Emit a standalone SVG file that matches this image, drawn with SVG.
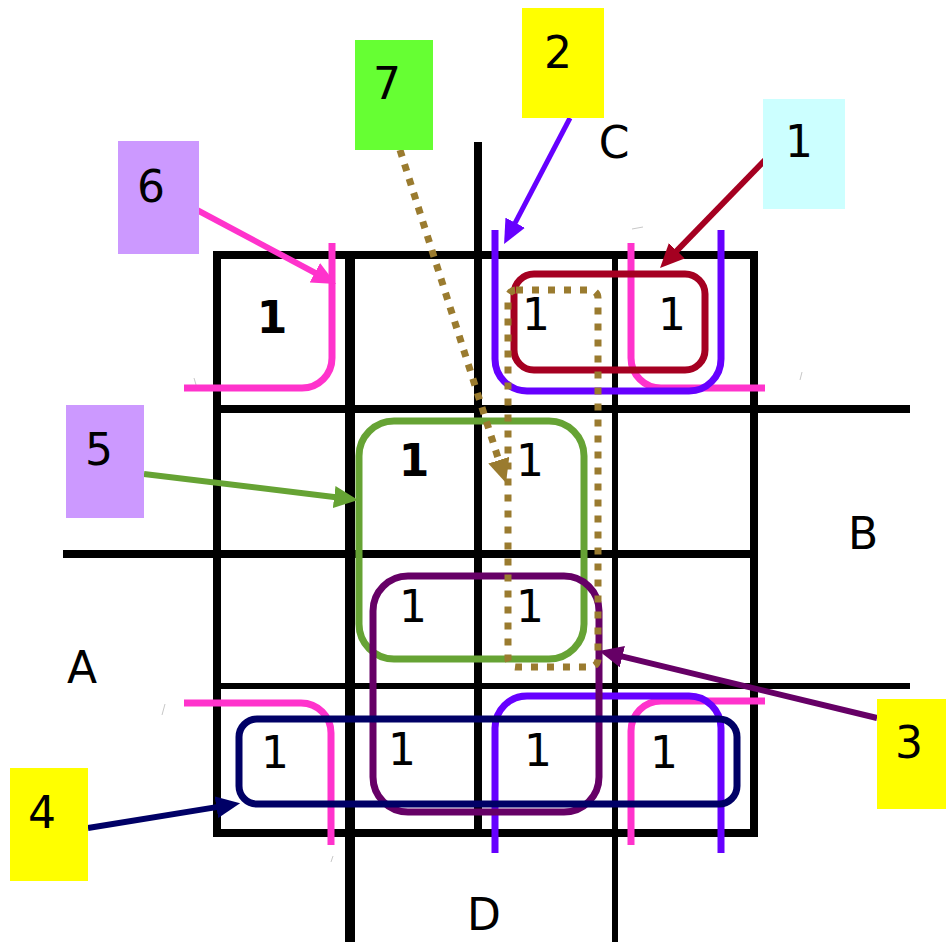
<svg xmlns="http://www.w3.org/2000/svg" width="946" height="942" viewBox="0 0 946 942">
  <style>
    .grid { stroke: #000; fill: none; }
    .loop { fill: none; stroke-width: 7; }
    .conn { fill: none; stroke-width: 6; }
    .t { font-family: "DejaVu Sans", "Liberation Sans", sans-serif; font-size: 44px; fill: #000; text-anchor: middle; }
    .b { font-weight: bold; }
    .speck { stroke: #c8c8c8; stroke-width: 1; fill: none; }
  </style>
  <defs>
    <marker id="hRed" viewBox="0 0 24 22" refX="8" refY="11" markerWidth="24" markerHeight="22" markerUnits="userSpaceOnUse" orient="auto">
      <path d="M0,0 L24,11 L0,22 z" fill="#a50021"/>
    </marker>
    <marker id="hBlue" viewBox="0 0 24 22" refX="8" refY="11" markerWidth="24" markerHeight="22" markerUnits="userSpaceOnUse" orient="auto">
      <path d="M0,0 L24,11 L0,22 z" fill="#6600ff"/>
    </marker>
    <marker id="hPink" viewBox="0 0 24 22" refX="8" refY="11" markerWidth="24" markerHeight="22" markerUnits="userSpaceOnUse" orient="auto">
      <path d="M0,0 L24,11 L0,22 z" fill="#ff33cc"/>
    </marker>
    <marker id="hGreen" viewBox="0 0 24 22" refX="8" refY="11" markerWidth="24" markerHeight="22" markerUnits="userSpaceOnUse" orient="auto">
      <path d="M0,0 L24,11 L0,22 z" fill="#66a334"/>
    </marker>
    <marker id="hPurple" viewBox="0 0 24 22" refX="8" refY="11" markerWidth="24" markerHeight="22" markerUnits="userSpaceOnUse" orient="auto">
      <path d="M0,0 L24,11 L0,22 z" fill="#660066"/>
    </marker>
    <marker id="hNavy" viewBox="0 0 24 22" refX="8" refY="11" markerWidth="24" markerHeight="22" markerUnits="userSpaceOnUse" orient="auto">
      <path d="M0,0 L24,11 L0,22 z" fill="#000066"/>
    </marker>
    <marker id="hBrown" viewBox="0 0 24 22" refX="8" refY="11" markerWidth="24" markerHeight="22" markerUnits="userSpaceOnUse" orient="auto">
      <path d="M0,0 L24,11 L0,22 z" fill="#9a7b2f"/>
    </marker>
  </defs>

  <rect width="946" height="942" fill="#fff"/>

  <!-- Karnaugh map grid -->
  <g id="grid" class="grid">
    <rect x="217" y="255" width="537" height="578" stroke-width="8"/>
    <line x1="350" y1="255" x2="350" y2="942" stroke-width="10"/>
    <line x1="478" y1="142" x2="478" y2="833" stroke-width="8"/>
    <line x1="615" y1="255" x2="615" y2="942" stroke-width="6"/>
    <line x1="217" y1="409" x2="910" y2="409" stroke-width="8"/>
    <line x1="63" y1="554" x2="754" y2="554" stroke-width="8"/>
    <line x1="217" y1="686" x2="910" y2="686" stroke-width="6"/>
  </g>

  <!-- small stray marks -->
  <g id="specks" class="speck">
    <line x1="194" y1="378" x2="197" y2="388"/>
    <line x1="632" y1="229" x2="643" y2="227"/>
    <line x1="800" y1="380" x2="802" y2="372"/>
    <line x1="162" y1="715" x2="165" y2="704"/>
    <line x1="331" y1="862" x2="333" y2="856"/>
  </g>

  <!-- group 6: the four corners (pink) -->
  <g id="loop6" class="loop" stroke="#ff33cc">
    <path d="M184,388 H302 A30,30 0 0 0 332,358 V243"/>
    <path d="M631,243 V358 A30,30 0 0 0 661,388 H765"/>
    <path d="M184,703 H301 A30,30 0 0 1 331,733 V845"/>
    <path d="M631,845 V731 A30,30 0 0 1 661,701 H765"/>
  </g>

  <!-- group 2: wrap-around columns (violet) -->
  <g id="loop2" class="loop" stroke="#6600ff">
    <path d="M495,230 V359 A32,32 0 0 0 527,391 H689 A32,32 0 0 0 721,359 V230"/>
    <path d="M495,853 V728 A32,32 0 0 1 527,696 H689 A32,32 0 0 1 721,728 V853"/>
  </g>

  <!-- group 1 (dark red) -->
  <g id="loop1">
    <rect class="loop" x="514" y="274" width="191" height="96" rx="20" stroke="#a50021"/>
  </g>

  <!-- group 5 (green) -->
  <g id="loop5">
    <rect class="loop" x="359" y="421" width="225" height="238" rx="35" stroke="#66a334" stroke-width="8"/>
  </g>

  <!-- group 3 (purple) -->
  <g id="loop3">
    <rect class="loop" x="373" y="576" width="226" height="236" rx="35" stroke="#660066"/>
  </g>

  <!-- group 4 (navy) -->
  <g id="loop4">
    <rect class="loop" x="239" y="719" width="498" height="85" rx="18" stroke="#000066" stroke-width="8"/>
  </g>

  <!-- group 7 (dotted brown) -->
  <g id="loop7">
    <rect class="loop" x="508" y="290" width="90" height="377" rx="8" stroke="#9a7b2f" stroke-dasharray="7 9"/>
  </g>

  <!-- connectors from the numbered tags -->
  <g id="connectors" class="conn">
    <line x1="765" y1="160" x2="671.2" y2="256.5" stroke="#a50021" marker-end="url(#hRed)"/>
    <line x1="570" y1="118" x2="511.5" y2="229.8" stroke="#6600ff" stroke-width="5" marker-end="url(#hBlue)"/>
    <line x1="197" y1="210" x2="321.9" y2="276.5" stroke="#ff33cc" marker-end="url(#hPink)"/>
    <line x1="144" y1="474" x2="342.1" y2="498" stroke="#66a334" marker-end="url(#hGreen)"/>
    <line x1="88" y1="828" x2="224.3" y2="805.9" stroke="#000066" marker-end="url(#hNavy)"/>
    <line x1="877" y1="718" x2="614.6" y2="654.7" stroke="#660066" marker-end="url(#hPurple)"/>
    <line x1="400" y1="150" x2="501.2" y2="467.8" stroke="#9a7b2f" stroke-width="7" stroke-dasharray="7 8" marker-end="url(#hBrown)"/>
  </g>

  <!-- numbered tags -->
  <g id="tag1"><rect x="763" y="99" width="82" height="110" fill="#ccffff"/><text class="t" x="799" y="157">1</text></g>
  <g id="tag2"><rect x="522" y="8" width="82" height="110" fill="#ffff00"/><text class="t" x="558" y="68">2</text></g>
  <g id="tag3"><rect x="877" y="699" width="69" height="110" fill="#ffff00"/><text class="t" x="909" y="758">3</text></g>
  <g id="tag4"><rect x="10" y="768" width="78" height="113" fill="#ffff00"/><text class="t" x="42" y="828">4</text></g>
  <g id="tag5"><rect x="66" y="405" width="78" height="113" fill="#cc99ff"/><text class="t" x="99" y="465">5</text></g>
  <g id="tag6"><rect x="118" y="141" width="81" height="113" fill="#cc99ff"/><text class="t" x="151" y="202">6</text></g>
  <g id="tag7"><rect x="355" y="40" width="78" height="110" fill="#66ff33"/><text class="t" x="387" y="99">7</text></g>

  <!-- variable labels -->
  <g id="labels">
    <text class="t" x="614" y="158">C</text>
    <text class="t" x="863" y="549">B</text>
    <text class="t" x="82" y="683">A</text>
    <text class="t" x="484" y="930">D</text>
  </g>

  <!-- cell values -->
  <g id="cells">
    <text class="t b" x="272" y="333">1</text>
    <text class="t" x="536" y="330">1</text>
    <text class="t" x="672" y="330">1</text>
    <text class="t b" x="414" y="476">1</text>
    <text class="t" x="530" y="476">1</text>
    <text class="t" x="413" y="622">1</text>
    <text class="t" x="530" y="622">1</text>
    <text class="t" x="275" y="768">1</text>
    <text class="t" x="402" y="765">1</text>
    <text class="t" x="538" y="766">1</text>
    <text class="t" x="664" y="768">1</text>
  </g>
</svg>
